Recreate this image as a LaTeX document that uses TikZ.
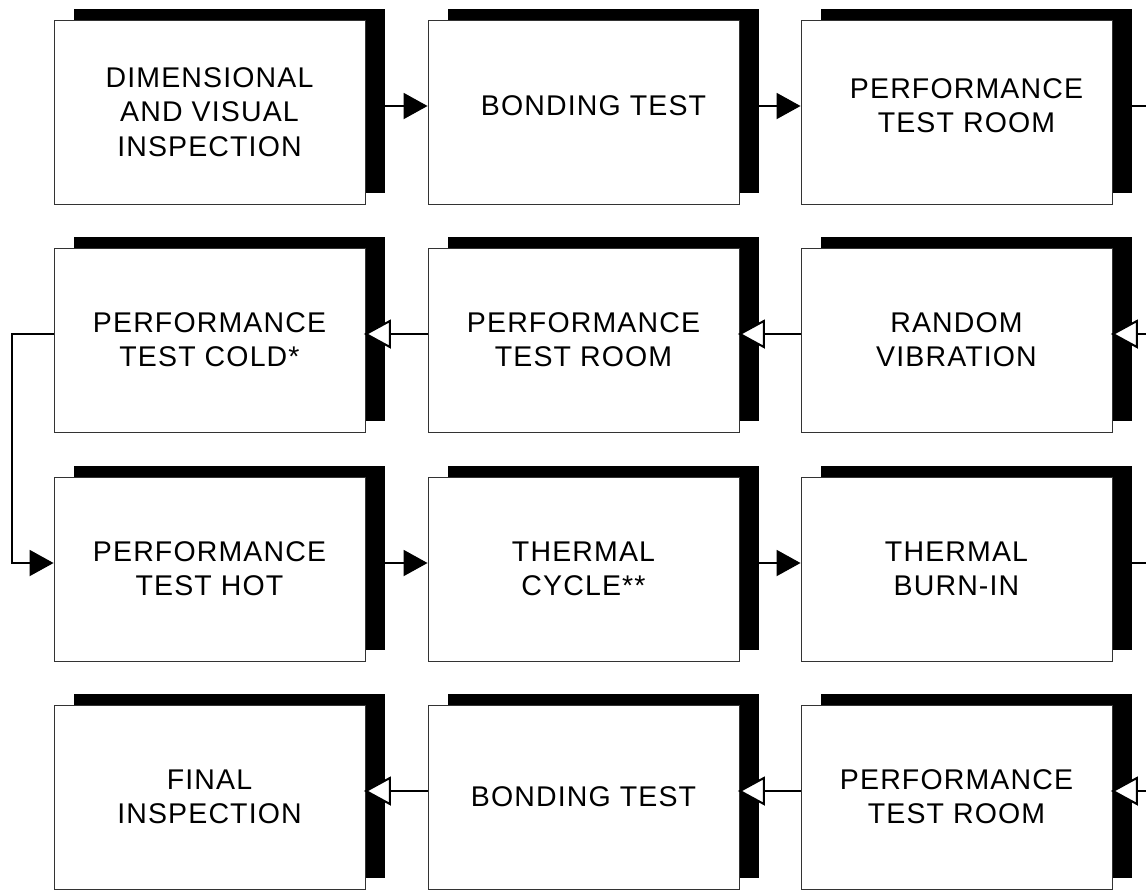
\documentclass[tikz,border=0pt]{standalone}
\usepackage{fontspec}
\setmainfont{Liberation Sans}[LetterSpace=4]
\usetikzlibrary{arrows.meta,shadows,calc}
\begin{document}
\begin{tikzpicture}[x=1pt,y=-1pt,
  stepbox/.style={draw=black!80, line width=0.9pt, fill=white,
    minimum width=311pt, minimum height=184pt, inner sep=0pt,
    align=center, font=\fontsize{28.5}{34.3}\selectfont,
    general shadow={fill=black, shadow xshift=19.5pt, shadow yshift=11.5pt}},
  % text centred on box plus shadow
  offtext/.style={text depth=13pt},
  link/.style={line width=2pt},
  fwd/.style={link, -{Triangle[length=24pt,width=26pt]}},
  back/.style={link, -{Triangle[open,length=27pt,width=29pt,fill=white]}, shorten >=-1.5pt}]
\useasboundingbox (0,0) rectangle (1146,892);
\newcommand\padl{\hspace*{20pt}}

% process steps, four rows of three
\node[stepbox] (a1) at (209.5,112) {DIMENSIONAL\\AND VISUAL\\INSPECTION};
\node[stepbox, offtext] (a2) at (583.5,112) {\padl BONDING TEST};
\node[stepbox, offtext] (a3) at (956.5,112) {\padl PERFORMANCE\\\padl TEST ROOM};

\node[stepbox] (b1) at (209.5,340) {PERFORMANCE\\TEST COLD*};
\node[stepbox] (b2) at (583.5,340) {PERFORMANCE\\TEST ROOM};
\node[stepbox] (b3) at (956.5,340) {RANDOM\\VIBRATION};

\node[stepbox] (c1) at (209.5,569) {PERFORMANCE\\TEST HOT};
\node[stepbox] (c2) at (583.5,569) {THERMAL\\CYCLE**};
\node[stepbox] (c3) at (956.5,569) {THERMAL\\BURN-IN};

\node[stepbox] (d1) at (209.5,797) {FINAL\\INSPECTION};
\node[stepbox] (d2) at (583.5,797) {BONDING TEST};
\node[stepbox] (d3) at (956.5,797) {PERFORMANCE\\TEST ROOM};

% links that continue past the right edge
\coordinate (outA) at (1150,106);
\coordinate (inB)  at (1150,334);
\coordinate (outC) at (1150,563);
\coordinate (inD)  at (1150,791);

% row 1: left to right
\draw[fwd] ($(a1.east)+(19.5,-6)$) -- ($(a2.west)+(0,-6)$);
\draw[fwd] ($(a2.east)+(19.5,-6)$) -- ($(a3.west)+(0,-6)$);
\draw[link] ($(a3.east)+(19.5,-6)$) -- (outA);

% row 2: right to left
\draw[back] (inB) -- ($(b3.east)+(0,-6)$);
\draw[back] ($(b3.west)+(0,-6)$) -- ($(b2.east)+(0,-6)$);
\draw[back] ($(b2.west)+(0,-6)$) -- ($(b1.east)+(0,-6)$);

% turn down on the left side
\draw[fwd] ($(b1.west)+(0,-6)$) -- ++(-42,0) |- ($(c1.west)+(0,-6)$);

% row 3: left to right
\draw[fwd] ($(c1.east)+(19.5,-6)$) -- ($(c2.west)+(0,-6)$);
\draw[fwd] ($(c2.east)+(19.5,-6)$) -- ($(c3.west)+(0,-6)$);
\draw[link] ($(c3.east)+(19.5,-6)$) -- (outC);

% row 4: right to left
\draw[back] (inD) -- ($(d3.east)+(0,-6)$);
\draw[back] ($(d3.west)+(0,-6)$) -- ($(d2.east)+(0,-6)$);
\draw[back] ($(d2.west)+(0,-6)$) -- ($(d1.east)+(0,-6)$);
\end{tikzpicture}
\end{document}
